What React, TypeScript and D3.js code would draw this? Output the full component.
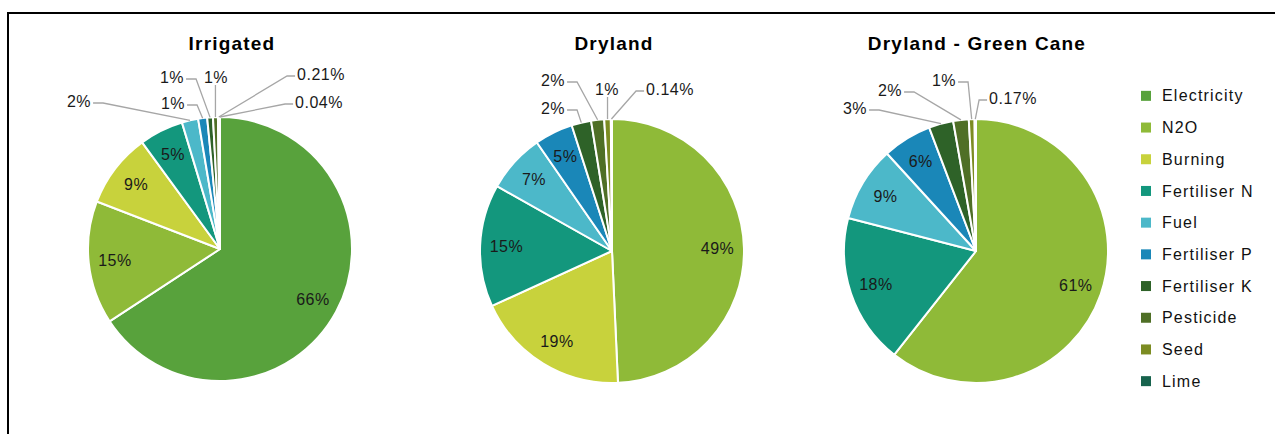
import React from "react";
import * as d3 from "d3";

const categories = ["Electricity", "N2O", "Burning", "Fertiliser N", "Fuel", "Fertiliser P", "Fertiliser K", "Pesticide", "Seed", "Lime"];
const colors = ["#58a23c", "#8fba38", "#c8d23c", "#13977d", "#4cb8c9", "#1a87b8", "#2e6228", "#4f6f26", "#7c8c22", "#17634d"];
const pieTitles = ["Irrigated", "Dryland", "Dryland - Green Cane"];
const irrigatedValues = [65.8, 15.1, 9.1, 5.4, 2.0, 1.1, 0.7, 0.6, 0.21, 0.04];
const drylandValues = [0, 49.3, 18.9, 15.0, 7.2, 4.7, 2.4, 1.6, 0.8, 0.14];
const greenCaneValues = [0, 60.6, 0, 18.4, 9.2, 6.0, 3.0, 1.9, 0.7, 0.17];
const seriesValues = [irrigatedValues, drylandValues, greenCaneValues];

// layout (not data)
const centers: [number, number][] = [[220, 249], [612, 251], [976, 251]];
const titleX = [232, 614, 977];
const R = 132;
const outsideLabelPos: Record<number, [number, number]>[] = [
  { 4: [79, 101], 5: [173, 103], 6: [172, 77], 7: [216, 77], 8: [321, 74], 9: [319, 102] },
  { 6: [553, 108], 7: [553, 80], 8: [607, 89], 9: [670, 89] },
  { 6: [855, 108], 7: [890, 90], 8: [944, 80], 9: [1013, 98] },
];

const FONT = "'Liberation Sans', Arial, sans-serif";
const fmt = (v: number) => (v >= 0.5 ? `${Math.round(v)}%` : `${v.toFixed(2)}%`);
const LABEL_FS = 16;
const LABEL_LS = 0.5;
const cw: Record<string, number> = { "%": 0.889, ".": 0.278 };
const textWidth = (s: string) =>
  s.split("").reduce((a, c) => a + (cw[c] ?? 0.556) * LABEL_FS + LABEL_LS, 0);

function Pie({ idx }: { idx: number }) {
  const values = seriesValues[idx];
  const [cx, cy] = centers[idx];
  const pie = d3.pie<number>().sort(null).value((d) => d)(values);
  const arc = d3.arc<d3.PieArcDatum<number>>().innerRadius(0).outerRadius(R);
  const labelArc = d3.arc<d3.PieArcDatum<number>>().innerRadius(R * 0.8).outerRadius(R * 0.8);
  const outside = outsideLabelPos[idx];
  return (
    <g>
      <text x={titleX[idx]} y={50} textAnchor="middle" fontFamily={FONT} fontWeight="bold" fontSize={19} letterSpacing={1.2} fill="#000">
        {pieTitles[idx]}
      </text>
      <g transform={`translate(${cx},${cy})`}>
        {pie.map((p, i) =>
          p.value > 0 ? (
            <path key={i} d={arc(p) || ""} fill={colors[i]} stroke="#fff" strokeWidth={2} strokeLinejoin="round" />
          ) : null
        )}
      </g>
      {pie.map((p, i) => {
        if (p.value <= 0) return null;
        const label = fmt(p.value);
        const pos = outside[i];
        if (!pos) {
          const [lx, ly] = labelArc.centroid(p);
          return (
            <text key={"l" + i} x={cx + lx} y={cy + ly} dy="0.35em" textAnchor="middle" fontFamily={FONT} fontSize={LABEL_FS} letterSpacing={LABEL_LS} fill="#1a1a1a">
              {label}
            </text>
          );
        }
        const mid = (p.startAngle + p.endAngle) / 2;
        const px = cx + R * Math.sin(mid);
        const py = cy - R * Math.cos(mid);
        const [tx, ty] = pos;
        const w = textWidth(label);
        let d: string;
        if (Math.abs(tx - px) < w / 2) {
          d = `M${px},${py}L${px},${ty + 8}`;
        } else {
          const left = tx < px;
          const ex = left ? tx + w / 2 + 2 : tx - w / 2 - 2;
          const qx = left ? ex + 10 : ex - 8;
          const ey = ty + 2;
          d = `M${px},${py}L${qx},${ey}L${ex},${ey}`;
        }
        return (
          <g key={"o" + i}>
            <path d={d} fill="none" stroke="#a6a6a6" strokeWidth={1.3} />
            <text x={tx} y={ty} dy="0.35em" textAnchor="middle" fontFamily={FONT} fontSize={LABEL_FS} letterSpacing={LABEL_LS} fill="#1a1a1a">
              {label}
            </text>
          </g>
        );
      })}
    </g>
  );
}

function Legend() {
  const y = d3.scaleBand<string>().domain(categories).range([80, 397]);
  return (
    <g>
      {categories.map((c, i) => {
        const yc = (y(c) || 0) + y.bandwidth() / 2;
        return (
          <g key={c}>
            <rect x={1141} y={yc - 5} width={10} height={10} fill={colors[i]} />
            <text x={1162} y={yc} dy="0.35em" fontFamily={FONT} fontSize={16} letterSpacing={1.2} fill="#111">
              {c}
            </text>
          </g>
        );
      })}
    </g>
  );
}

export default function App() {
  return (
    <svg width={1275} height={434} style={{ position: "absolute", left: 0, top: 0, background: "#fff" }}>
      <rect x={0} y={0} width={1275} height={434} fill="#fff" />
      <rect x={8} y={13} width={1300} height={440} fill="none" stroke="#000" strokeWidth={2} />
      <Pie idx={0} />
      <Pie idx={1} />
      <Pie idx={2} />
      <Legend />
    </svg>
  );
}
